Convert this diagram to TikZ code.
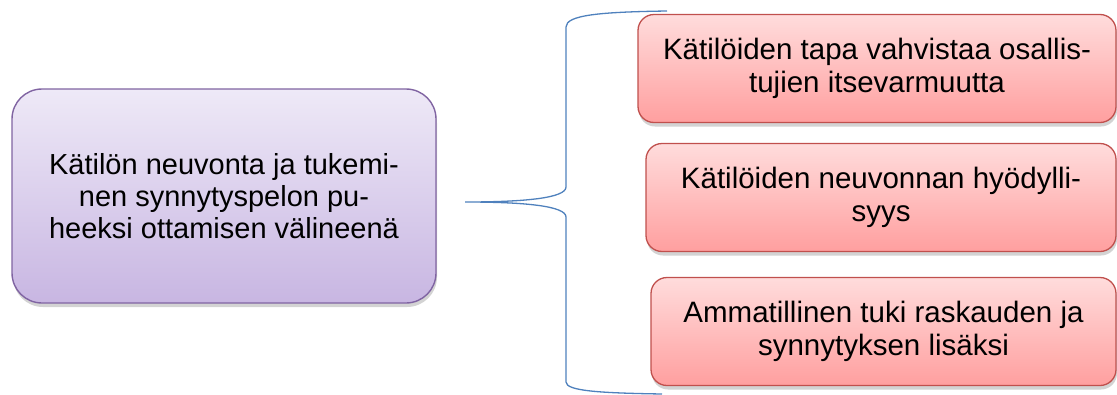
\documentclass[tikz,border=0pt]{standalone}
\usepackage{fontspec}
\setmainfont{Liberation Sans}
\usetikzlibrary{shadows}

\definecolor{lilatop}{HTML}{EEE9F7}
\definecolor{lilabottom}{HTML}{C8B6E2}
\definecolor{lilaline}{HTML}{8064A2}
\definecolor{redtop}{HTML}{FFDCDC}
\definecolor{redbottom}{HTML}{FF9F9F}
\definecolor{redline}{HTML}{C0504D}
\definecolor{braceblue}{HTML}{4F81BD}

\tikzset{
  mainbox/.style={rounded corners=30pt, draw=lilaline, line width=1.4pt,
    top color=lilatop, bottom color=lilabottom, align=center,
    minimum width=424pt, minimum height=214pt,
    font=\fontsize{29}{32}\selectfont,
    drop shadow={shadow xshift=1pt, shadow yshift=-4pt, opacity=.35}},
  subbox/.style={rounded corners=16pt, draw=redline, line width=1.3pt,
    top color=redtop, bottom color=redbottom, align=center,
    minimum height=108pt,
    font=\fontsize{29.5}{33.5}\selectfont,
    drop shadow={shadow xshift=1pt, shadow yshift=-4pt, opacity=.35}},
}

\begin{document}
\begin{tikzpicture}[x=1pt,y=-1pt]
\useasboundingbox (0,0) rectangle (1117,394);

        \node[mainbox] (main) at (224,196)
          {Kätilön neuvonta ja tukemi-\\nen synnytyspelon pu-\\heeksi ottamisen välineenä};
        \node[subbox, minimum width=478pt] (sub1) at (877,68.5)
          {Kätilöiden tapa vahvistaa osallis-\\tujien itsevarmuutta};
        \node[subbox, minimum width=470pt] (sub2) at (881,197.5)
          {Kätilöiden neuvonnan hyödylli-\\syys};
        \node[subbox, minimum width=465pt] (sub3) at (883.5,331.5)
          {Ammatillinen tuki raskauden ja\\synnytyksen lisäksi};

        % the brace
        \coordinate (tip) at (465,202);
        \coordinate (top) at (667,11);
        \coordinate (bottom) at (662,394);
        \draw[braceblue, line width=1.3pt]
          (top) .. controls (600,12) and (566,15) .. (566,27) -- (566,187)
          .. controls (566,198) and (525,202) .. (tip)
          .. controls (525,202) and (566,206) .. (566,217) -- (566,382)
          .. controls (566,391) and (600,393) .. (bottom);

      \end{tikzpicture}
\end{document}
